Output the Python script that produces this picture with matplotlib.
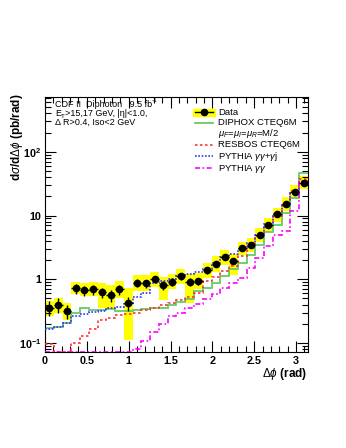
import matplotlib
matplotlib.use("Agg")
import matplotlib.pyplot as plt
import numpy as np
from matplotlib.lines import Line2D
from matplotlib.patches import Rectangle
from matplotlib.ticker import MultipleLocator, LogLocator, NullFormatter, FixedLocator, FixedFormatter

plt.rcParams['font.family'] = ['Liberation Sans', 'DejaVu Sans']
plt.rcParams['mathtext.fontset'] = 'custom'
plt.rcParams['mathtext.rm'] = 'Liberation Sans'
plt.rcParams['mathtext.it'] = 'Liberation Sans:italic'
plt.rcParams['mathtext.bf'] = 'Liberation Sans:bold'

# 30 bins in delta phi, 0..pi
nbins = 30
edges = np.linspace(0, np.pi, nbins + 1)

data = [0.36, 0.40, 0.32, 0.72, 0.67, 0.70, 0.63, 0.56, 0.70, 0.42,
        0.88, 0.86, 1.00, 0.81, 0.92, 1.13, 0.91, 0.93, 1.38, 1.76,
        2.26, 1.93, 3.1, 3.5, 5.0, 7.2, 10.4, 15.4, 23.5, 33.0]
stat = [0.25, 0.25, 0.25, 0.18, 0.18, 0.18, 0.18, 0.2, 0.18, 0.25,
        0.15, 0.15, 0.14, 0.15, 0.14, 0.13, 0.14, 0.13, 0.12, 0.11,
        0.10, 0.10, 0.09, 0.08, 0.07, 0.07, 0.06, 0.06, 0.05, 0.05]
sys_hi = [0.45, 0.50, 0.42, 0.92, 0.88, 0.90, 0.88, 0.80, 0.95, 0.72,
          1.15, 1.15, 1.30, 1.10, 1.20, 1.45, 1.20, 1.25, 1.80, 2.30,
          2.90, 2.50, 3.90, 4.50, 6.30, 9.20, 13.0, 19.5, 30.0, 42.0]
sys_lo = [0.27, 0.30, 0.23, 0.58, 0.55, 0.55, 0.35, 0.33, 0.50, 0.11,
          0.65, 0.65, 0.75, 0.48, 0.70, 0.85, 0.42, 0.70, 1.05, 1.30,
          1.70, 1.15, 2.40, 2.70, 3.90, 5.60, 8.00, 12.0, 18.0, 26.0]

diphox = [0.17, 0.18, 0.21, 0.30, 0.35, 0.33, 0.33, 0.34, 0.32, 0.32,
          0.33, 0.34, 0.36, 0.36, 0.40, 0.44, 0.49, 0.66, 0.74, 0.89,
          1.13, 1.43, 1.82, 2.45, 3.5, 5.5, 7.0, 11.0, 19.0, 46.0]
resbos = [0.095, 0.06, 0.06, 0.10, 0.13, 0.165, 0.23, 0.25, 0.28, 0.29,
          0.30, 0.33, 0.35, 0.39, 0.43, 0.48, 0.52, 0.62, 0.95, 1.10,
          1.35, 1.60, 2.30, 3.20, 4.70, 7.0, 10.0, 15.0, 24.0, 37.0]
pythia_gj = [0.166, 0.178, 0.205, 0.27, 0.29, 0.31, 0.32, 0.35, 0.37, 0.43,
             0.53, 0.62, 0.87, 0.94, 1.00, 1.15, 1.20, 1.30, 1.47, 1.80,
             2.20, 2.50, 3.00, 3.70, 5.00, 7.30, 10.5, 15.0, 23.0, 34.0]
pythia_gg = [0.03, 0.03, 0.03, 0.03, 0.03, 0.03, 0.03, 0.03, 0.03, 0.05,
             0.08, 0.108, 0.15, 0.20, 0.27, 0.30, 0.36, 0.41, 0.49, 0.58,
             0.74, 0.89, 1.06, 1.52, 2.18, 3.30, 5.0, 5.7, 11.7, 35.0]

labels = ['Data', 'DIPHOX CTEQ6M', '$\\mu_F$=$\\mu_I$=$\\mu_R$=M/2', 'RESBOS CTEQ6M',
          'PYTHIA $\\gamma\\gamma$+$\\gamma$j', 'PYTHIA $\\gamma\\gamma$']

ymin, ymax = 0.072, 720
c_diphox, c_resbos, c_gj, c_gg = '#66cc66', '#ff3333', '#3333ff', '#ff00ff'
ls_resbos, ls_gj, ls_gg = (0, (1.5, 1.5)), (0, (1, 1)), (0, (3, 1.5, 1, 1.5))

fig = plt.figure(figsize=(3.46, 4.48), dpi=100)
ax = fig.add_axes([0.130, 0.214, 0.760, 0.569])

centers = 0.5 * (edges[:-1] + edges[1:])
binw = edges[1] - edges[0]
data = np.array(data)
lo = np.array(sys_lo)
hi = np.array(sys_hi)
ax.bar(centers, hi - lo, bottom=lo, width=binw, color='#ffff00', edgecolor='none', zorder=1)

def step(vals, **kw):
    v = np.clip(np.array(vals), ymin * 1.02, None)
    ax.stairs(v, edges, baseline=None, **kw)

step(diphox, color=c_diphox, lw=1.3, zorder=2)
step(resbos, color=c_resbos, lw=1.2, ls=ls_resbos, zorder=3)
step(pythia_gj, color=c_gj, lw=1.2, ls=ls_gj, zorder=3)
step(pythia_gg, color=c_gg, lw=1.2, ls=ls_gg, zorder=3)

err = data * np.array(stat)
ax.errorbar(centers, data, yerr=err, xerr=binw / 2, fmt='o', color='black',
            ms=4.5, elinewidth=1, capsize=0, zorder=5)

ax.set_yscale('log')
ax.set_xlim(0, np.pi)
ax.set_ylim(ymin, ymax)

ax.xaxis.set_minor_locator(MultipleLocator(0.1))
ax.set_xticks([0, 0.5, 1, 1.5, 2, 2.5, 3])
ax.set_xticklabels(['0', '0.5', '1', '1.5', '2', '2.5', '3'], fontweight='bold')
ax.yaxis.set_major_locator(FixedLocator([0.1, 1, 10, 100]))
ax.yaxis.set_major_formatter(FixedFormatter(['$\\mathbf{10^{-1}}$', '1', '10', '$\\mathbf{10^{2}}$']))
ax.yaxis.set_minor_locator(LogLocator(base=10, subs=np.arange(2, 10)))
ax.yaxis.set_minor_formatter(NullFormatter())
ax.tick_params(which='both', direction='in', top=True, right=True, width=0.8)
ax.tick_params(which='major', length=8, labelsize=7.8, pad=2.5)
ax.tick_params(which='minor', length=4)
for lab in ax.get_yticklabels():
    lab.set_fontweight('bold')
for sp in ax.spines.values():
    sp.set_linewidth(0.8)

fig.text(0.048, 0.792, 'd$\\sigma$/d$\\Delta\\phi$ (pb/rad)', rotation=90, ha='center', va='top',
         fontsize=8.5, fontweight='bold')
fig.text(0.887, 0.165, '$\\Delta\\phi$ (rad)', ha='right', va='center', fontsize=8.5, fontweight='bold')

# run info, built from plain text pieces so sub/superscripts stay compact
fs, fs_small = 6.5, 4.6
tx = 0.038
t1 = ax.text(tx, 0.955, 'CDF II  Diphoton   9.5 fb', transform=ax.transAxes, fontsize=fs, va='bottom')
ax.annotate('-1', xy=(1, 0.95), xycoords=t1, fontsize=fs_small, va='center', ha='left')
t2 = ax.text(tx, 0.919, 'E', transform=ax.transAxes, fontsize=fs, va='bottom')
sub = ax.annotate('T', xy=(1, 0.12), xycoords=t2, fontsize=fs_small, va='center', ha='left')
ax.annotate('>15,17 GeV, |\u03b7|<1.0,', xy=(1, 0), xycoords=(sub, t2), fontsize=fs,
            va='bottom', ha='left')
ax.text(tx, 0.883, '\u0394 R>0.4, Iso<2 GeV', transform=ax.transAxes, fontsize=fs, va='bottom')

# legend drawn by hand, ROOT style
rows = [0.941, 0.899, 0.857, 0.814, 0.769, 0.722]
x0, x1, xt = 0.570, 0.640, 0.658
tr = ax.transAxes
ax.add_patch(Rectangle((x0 - 0.008, rows[0] - 0.014), x1 - x0 + 0.016, 0.028,
                       transform=tr, color='#ffff00', zorder=6, clip_on=False))
ax.add_line(Line2D([x0, x1], [rows[0]] * 2, transform=tr, color='black', lw=1, zorder=7))
ax.add_line(Line2D([(x0 + x1) / 2], [rows[0]], transform=tr, color='black', marker='o',
                   ms=4.5, zorder=7))
styles = [None, dict(color=c_diphox, lw=1.3), None, dict(color=c_resbos, lw=1.2, ls=ls_resbos),
          dict(color=c_gj, lw=1.2, ls=ls_gj), dict(color=c_gg, lw=1.2, ls=ls_gg)]
for y, lab, st in zip(rows, labels, styles):
    if st is not None:
        ax.add_line(Line2D([x0, x1], [y, y], transform=tr, zorder=7, **st))
    ax.text(xt, y, lab, transform=tr, fontsize=6.8, va='center', zorder=7)

fig.savefig('out.png', dpi=100)
